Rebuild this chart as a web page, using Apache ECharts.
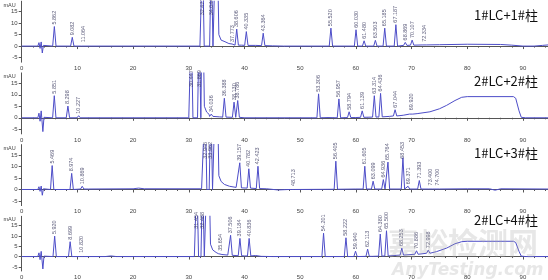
<!DOCTYPE html>
<html><head><meta charset="utf-8">
<script src="https://cdn.jsdelivr.net/npm/echarts@6/dist/echarts.min.js"></script>
<style>html,body{margin:0;padding:0;background:#fff}#c{width:548px;height:280px}</style>
</head><body><div id="c"></div>
<script>
// ---- data ----
const panelTitles = ['1#LC+1#柱', '2#LC+2#柱', '1#LC+3#柱', '2#LC+4#柱'];
const yTickValues = [-5, 0, 5, 10, 15];
const xTickStep = 10;

// Panel 1
const p1Times = [5.862, 9.082, 11.064, 32.471, 34.044, 37.773, 38.606, 40.335, 43.364, 55.520, 60.030, 61.480, 63.503, 65.185, 67.187, 68.869, 70.107, 72.334];
const p1Tops  = [8.5, 3.8, 0.8, 40, 40, 0.9, 7.4, 6.3, 5.6, 7.8, 7.1, 2.3, 2.5, 7.8, 9.3, 1.6, 2.6, 1.0];
const p1Bases = [0, 0, 0, 0, 0, 0.5, 0.4, 0.3, 0.2, 0, 0, 0, 0, 0, 0, 0.3, 0.4, 0.5];
const p1Baseline = [[0,0],[2.9,0],[3.1,1.5],[3.3,-1],[3.5,1.8],[3.7,-3],[3.9,0.3],[4.2,0],[32.0,0],[34.6,0.4],[35.0,60],[35.4,5],[35.8,2.6],[36.5,1.9],[37.2,1.1],[38.1,0.6],[39.5,0.4],[42,0.3],[45,0.1],[47,0],[70,0.3],[75,0.6],[80,0.8],[86,0.7],[88,0.4],[90,0],[92,0],[93.5,0.3],[94.5,0.5]];

// Panel 2
const p2Times = [5.851, 8.298, 10.227, 30.447, 31.869, 34.036, 36.388, 38.130, 38.786, 53.306, 56.957, 58.794, 61.139, 63.314, 64.436, 67.044, 69.920];
const p2Tops  = [9.6, 5.1, 0.9, 40, 40, 1.6, 8.5, 6.8, 7.5, 10.4, 8.2, 2.6, 3.0, 9.6, 10.6, 3.5, 2.4];
const p2Bases = [0, 0, 0, 0, 0, 0.6, 0.3, 0.2, 0.2, 0, 0, 0.1, 0.2, 0.3, 0.4, 0.8, 1.6];
const p2Baseline = [[0,0],[2.9,0],[3.1,2],[3.3,-1.5],[3.5,3],[3.8,-6],[4.0,0.2],[4.3,0],[30,0],[32.2,0.4],[32.45,60],[32.8,5],[33.2,2.5],[33.65,1.5],[34.5,0.8],[35.5,0.4],[37,0.2],[40,0],[55,0.1],[60,0.1],[63,0.3],[66,0.6],[68.5,1.1],[71,1.8],[73.3,2.6],[75,3.9],[76.3,5.4],[77.8,7.5],[79,8.9],[80,9.2],[88.3,9.2],[88.7,8.5],[89.3,3],[89.7,0.2],[90.5,0],[94.5,0]];

// Panel 3
const p3Times = [5.469, 8.974, 10.869, 32.946, 33.962, 39.157, 40.782, 42.423, 48.713, 56.405, 61.605, 63.099, 64.936, 65.764, 68.453, 69.371, 71.393, 73.400, 74.700];
const p3Tops  = [10.4, 7.0, 1.4, 40, 40, 11.6, 9.0, 10.1, 0.6, 12.3, 10.1, 3.6, 4.3, 11.9, 13.8, 1.4, 3.9, 0.9, 0.9];
const p3Bases = [0, 0, 0.2, 0, 0, 0.7, 0.6, 0.4, 0, 0.1, 0.2, 0.2, 0.2, 0.2, 0.2, 0.2, 0.2, 0.2, 0.2];
const p3Baseline = [[0,0],[2.9,0],[3.1,1.2],[3.3,-0.8],[3.5,1.5],[3.7,-2.5],[3.9,0.3],[4.2,0],[12,0.2],[20,0.3],[21,0.6],[22,0.3],[32.3,0.3],[34.6,0.6],[35.0,60],[35.4,6],[35.8,3.5],[36.4,2.2],[37.3,1.4],[38.5,0.9],[41,0.6],[44,0.3],[46,-0.2],[48,0],[60,0.2],[80,0.3],[84,0.3],[85,-0.3],[86,0.3],[94.5,0.2]];

// Panel 4
const p4Times = [5.920, 8.699, 10.820, 31.454, 32.488, 35.654, 37.506, 39.184, 40.836, 54.201, 58.222, 59.940, 62.113, 64.380, 65.500, 68.253, 70.886, 72.998];
const p4Tops  = [9.9, 7.2, 0.9, 40, 40, 1.8, 10.3, 8.8, 8.8, 11.3, 9.1, 2.6, 3.6, 10.9, 12.5, 4.1, 2.8, 3.1];
const p4Bases = [0, 0, 0, 0, 0, 1.0, 0.6, 0.4, 0.3, 0, 0, 0, 0.1, 0.2, 0.3, 0.7, 1.1, 1.6];
const p4Baseline = [[0,0],[2.9,0],[3.1,1.8],[3.3,-1.5],[3.5,2.5],[3.8,-6],[4.0,0.2],[4.3,0],[15,0],[16,0.3],[17,0],[31,0],[33.1,0.5],[33.5,60],[33.9,6],[34.3,3.2],[34.9,2.0],[35.3,1.4],[36,1.0],[37,0.7],[40,0.3],[42,0.5],[43,0.1],[45,0],[60,0],[63,0.1],[66,0.4],[68.5,0.7],[71,1.1],[73.3,1.6],[74.5,2.4],[76.3,4.1],[77.8,6.2],[79,7.2],[80,7.4],[88.3,7.4],[88.7,6.8],[89.3,2.5],[89.7,0.2],[90.5,0],[94.5,0]];

const panels = [
  {times: p1Times, tops: p1Tops, bases: p1Bases, baseline: p1Baseline},
  {times: p2Times, tops: p2Tops, bases: p2Bases, baseline: p2Baseline},
  {times: p3Times, tops: p3Tops, bases: p3Bases, baseline: p3Baseline},
  {times: p4Times, tops: p4Tops, bases: p4Bases, baseline: p4Baseline}
];

// ---- layout / style ----
const HW = 0.3;            // peak half width (drawing)
const LABEL_CAP = 12.5;    // labels of off-scale peaks sit at this height
const Y_MIN = -7, Y_MAX = 19.5, X_MAX = 94.5;
const gridTops = [1.2, 72.9, 144.6, 216.3];
const GRID_H = 61;
const titleTops = [9, 75, 147, 214];
const lineColor = '#4d4dc8';
const axisColor = '#555';

function buildTrace(p) {
  const pts = p.baseline.filter(([t]) => !p.times.some(rt => Math.abs(t - rt) <= HW));
  p.times.forEach((rt, i) => {
    pts.push([rt - HW, p.bases[i]], [rt, p.tops[i]], [rt + HW, p.bases[i]]);
  });
  pts.sort((a, b) => a[0] - b[0]);
  return pts;
}

const grid = [], xAxis = [], yAxis = [], series = [], title = [];
panels.forEach((p, k) => {
  grid.push({left: 21.7, right: 0, top: gridTops[k], height: GRID_H});
  xAxis.push({
    type: 'value', gridIndex: k, min: 0, max: X_MAX, interval: xTickStep,
    axisLine: {lineStyle: {color: axisColor, width: 1}},
    axisTick: {length: 3, lineStyle: {color: axisColor}},
    minorTick: {show: true, splitNumber: 5, length: 1.5, lineStyle: {color: axisColor}},
    axisLabel: {fontSize: 6, margin: 3, color: '#444', fontFamily: 'Liberation Sans',
      showMaxLabel: false},
    splitLine: {show: false}
  });
  yAxis.push({
    type: 'value', gridIndex: k, min: Y_MIN, max: Y_MAX,
    axisLine: {show: true, lineStyle: {color: axisColor, width: 1}},
    axisTick: {show: true, length: 3, customValues: yTickValues, lineStyle: {color: axisColor}},
    axisLabel: {fontSize: 6, margin: 4, color: '#444', customValues: yTickValues, fontFamily: 'Liberation Sans'},
    splitLine: {show: false},
    name: 'mAU', nameLocation: 'end', nameGap: -4,
    nameTextStyle: {fontSize: 5.5, color: '#444', align: 'right', verticalAlign: 'middle', padding: [0, 6, 0, 0], fontFamily: 'Liberation Sans'}
  });
  series.push({
    type: 'line', xAxisIndex: k, yAxisIndex: k, data: buildTrace(p),
    showSymbol: false, symbol: 'none', clip: true, animation: false,
    lineStyle: {color: lineColor, width: 1}, z: 3
  });
  series.push({
    type: 'scatter', xAxisIndex: k, yAxisIndex: k, symbolSize: 0, animation: false, z: 4,
    data: p.times.map((rt, i) => [rt, Math.min(p.tops[i], LABEL_CAP), rt.toFixed(3)]),
    label: {show: true, position: 'top', distance: 2, rotate: 90, align: 'left', verticalAlign: 'middle',
      fontSize: 5.5, color: '#33335a', fontFamily: 'Liberation Sans',
      formatter: d => d.value[2]}
  });
  title.push({text: panelTitles[k], left: 474, top: titleTops[k], padding: 0,
    textStyle: {fontSize: 13, fontWeight: 'normal', color: '#111', fontFamily: 'Noto Sans CJK SC'}});
});

const chart = echarts.init(document.getElementById('c'), null, {renderer: 'canvas'});
chart.setOption({
  animation: false, backgroundColor: '#fff',
  title, grid, xAxis, yAxis, series,
  graphic: [
    {type: 'text', left: 388, top: 228, z: 10, style: {text: '嘉峪检测网', fontSize: 30, fontWeight: 'bold', fill: 'rgba(170,170,170,0.28)', fontFamily: 'Noto Sans CJK SC'}},
    {type: 'text', left: 392, top: 262, z: 10, style: {text: 'AnyTesting.com', fontSize: 17, fontWeight: 'bold', fontStyle: 'italic', fill: 'rgba(170,170,170,0.28)', fontFamily: 'DejaVu Sans'}}
  ]
});
</script></body></html>
